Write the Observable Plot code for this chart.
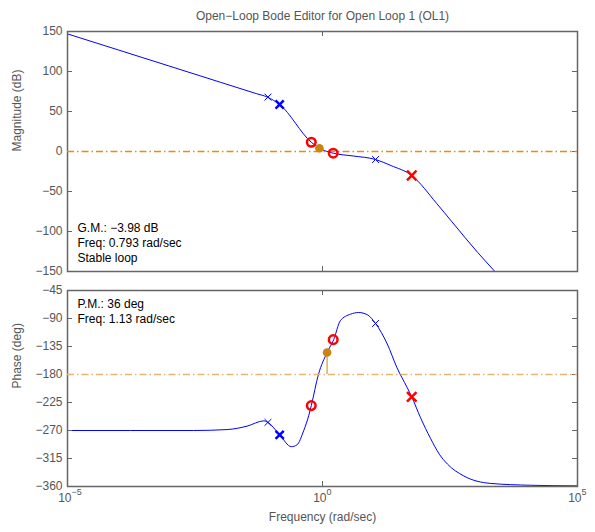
<!DOCTYPE html>
<html><head><meta charset="utf-8">
<script src="https://cdn.jsdelivr.net/npm/d3@7"></script>
<script src="https://cdn.jsdelivr.net/npm/@observablehq/plot@0.6"></script>
<style>body{margin:0;background:#fff} svg{display:block}</style>
</head><body><div id="chart"></div>
<script>
// ---- data (log10 of frequency in rad/sec) ----
const magLogFreq = [-5, -3, -2, -1.3, -1.08, -0.84, -0.22, -0.06, 0.21, 0.6, 1.04, 1.34, 1.75, 2.24, 2.54, 3.04, 3.38, 4.0];
const magDb      = [147, 106.7, 86.5, 72.4, 68, 58.7, 11.6, 4.1, -2.1, -5.6, -10, -17.5, -30, -65, -88, -126, -150, -196];

const phaseLogFreq = [-5, -2.53, -1.87, -1.48, -1.15, -1.07, -0.84, -0.61, -0.5, -0.37, -0.27, -0.22, -0.08, 0.09, 0.22, 0.35, 0.55, 0.71, 0.88, 1.04, 1.27, 1.46, 1.66, 1.75, 1.92, 2.12, 2.29, 2.45, 2.77, 3.29, 4.08, 5];
const phaseDeg     = [-270, -270, -268.5, -263, -254.5, -257, -277, -296, -293, -270.5, -246, -230, -180, -144.6, -124, -93.5, -83, -80.4, -84, -98, -131, -169, -201, -216, -249, -283, -308, -324, -343, -355, -358, -359];

const markerLogFreq = [-1.07, -0.84, -0.22, 0.21, 1.04, 1.75];
const markerKind    = ["pole", "poleBold", "zero", "zero", "pole", "poleRed"];
const markerMag     = [68, 58.7, 11.6, -2.1, -10, -30];
const markerPhase   = [-257, -277, -230, -124, -98, -216];

const gmLogFreq = -0.06, gmDb = 4.1;
const pmLogFreq = 0.09, pmDeg = -144.6;

const xTicks = [1e-5, 1, 1e5];
const xTickExp = ["\u22125", "0", "5"];
const magTicks = [150, 100, 50, 0, -50, -100, -150];
const phaseTicks = [-45, -90, -135, -180, -225, -270, -315, -360];

const title = "Open\u2212Loop Bode Editor for Open Loop 1 (OL1)";
const gmText = "G.M.: \u22123.98 dB\nFreq: 0.793 rad/sec\nStable loop";
const pmText = "P.M.: 36 deg\nFreq: 1.13 rad/sec";

// ---- tables ----
const magData = magLogFreq.map((lf, i) => ({f: 10 ** lf, v: magDb[i]}));
const phaseData = phaseLogFreq.map((lf, i) => ({f: 10 ** lf, v: phaseDeg[i]}));
const markers = markerLogFreq.map((lf, i) => ({f: 10 ** lf, kind: markerKind[i], mag: markerMag[i], phase: markerPhase[i]}));

const W = 595, ML = 67, MR = 18;
const innerW = W - ML - MR;
const font = "'Liberation Sans', Arial, Helvetica, sans-serif";
const frameColor = "#666";
const blue = "#0000ff";

function frameTicks(yTicks, innerH) {
  return [
    Plot.tickY(yTicks, {y: d => d, insetRight: innerW - 5, stroke: frameColor}),
    Plot.tickY(yTicks, {y: d => d, insetLeft: innerW - 5, stroke: frameColor}),
    Plot.tickX(xTicks, {x: d => d, insetBottom: innerH - 5, stroke: frameColor}),
    Plot.tickX(xTicks, {x: d => d, insetTop: innerH - 5, stroke: frameColor}),
    Plot.frame({stroke: frameColor, strokeWidth: 1.5})
  ];
}

function markerMarks(key) {
  return [
    Plot.dot(markers.filter(d => d.kind === "pole"), {x: "f", y: key, symbol: "times", r: 3.2, stroke: blue, strokeWidth: 1}),
    Plot.dot(markers.filter(d => d.kind === "poleBold"), {x: "f", y: key, symbol: "times", r: 3.8, stroke: blue, strokeWidth: 2.5}),
    Plot.dot(markers.filter(d => d.kind === "poleRed"), {x: "f", y: key, symbol: "times", r: 4.4, stroke: "#ff0000", strokeWidth: 2.5}),
    Plot.dot(markers.filter(d => d.kind === "zero"), {x: "f", y: key, r: 4.3, stroke: "#ff0000", strokeWidth: 2.5, fill: "none"})
  ];
}

const style = {fontFamily: font, fontSize: "12px", color: "#555", background: "white", overflow: "visible"};

const topH = 280;
const topPlot = Plot.plot({
  width: W, height: topH, marginLeft: ML, marginRight: MR, marginTop: 31, marginBottom: 9,
  style,
  x: {type: "log", domain: [1e-5, 1e5], axis: null},
  y: {domain: [-150, 150], axis: null},
  marks: [
    Plot.axisY(magTicks, {anchor: "left", tickSize: 0, tickPadding: 5, label: null, fontSize: 12}),
    Plot.line(magData, {x: "f", y: "v", stroke: blue, strokeWidth: 1, curve: "monotone-x", clip: true}),
    ...frameTicks(magTicks, topH - 31 - 9),
    Plot.ruleY([0], {stroke: "#f08c00", strokeOpacity: 1, strokeWidth: 1.3, strokeDasharray: "7,3,1.5,3"}),
    Plot.ruleX([10 ** gmLogFreq], {x: d => d, y1: 0, y2: gmDb, stroke: "#c98510", strokeWidth: 1.5}),
    Plot.dot([10 ** gmLogFreq], {x: d => d, y: gmDb, r: 4.3, fill: "#c98510"}),
    ...markerMarks("mag"),
    Plot.text([title], {frameAnchor: "top", dy: -20, fill: "#555", fontSize: 12}),
    Plot.text(["Magnitude (dB)"], {frameAnchor: "left", dx: -50, rotate: -90, fill: "#555", fontSize: 12}),
    Plot.text([gmText], {frameAnchor: "bottom-left", dx: 10, dy: -10, lineAnchor: "bottom", textAnchor: "start", lineHeight: 1.25, fill: "black", fontSize: 12})
  ]
});

const botH = 252;
const botPlot = Plot.plot({
  width: W, height: botH, marginLeft: ML, marginRight: MR, marginTop: 10, marginBottom: 46,
  style,
  x: {type: "log", domain: [1e-5, 1e5], axis: null},
  y: {domain: [-360, -45], axis: null},
  marks: [
    Plot.axisY(phaseTicks, {anchor: "left", tickSize: 0, tickPadding: 5, label: null, fontSize: 12}),
    Plot.line(phaseData, {x: "f", y: "v", stroke: blue, strokeWidth: 1, curve: "monotone-x", clip: true}),
    ...frameTicks(phaseTicks, botH - 10 - 46),
    Plot.ruleY([-180], {stroke: "#e2b66e", strokeWidth: 1.3, strokeDasharray: "7,3,1.5,3"}),
    Plot.ruleX([10 ** pmLogFreq], {x: d => d, y1: -180, y2: pmDeg, stroke: "#dcae5e", strokeWidth: 1.5}),
    Plot.dot([10 ** pmLogFreq], {x: d => d, y: pmDeg, r: 4.3, fill: "#c98510"}),
    ...markerMarks("phase"),
    Plot.text(xTicks, {x: d => d, frameAnchor: "bottom", dy: 15, text: () => "10", textAnchor: "end", dx: 4, fill: "#555", fontSize: 12}),
    Plot.text(xTicks, {x: d => d, frameAnchor: "bottom", dy: 8, text: d => xTickExp[xTicks.indexOf(d)], textAnchor: "start", dx: 4, fill: "#555", fontSize: 9}),
    Plot.text(["Frequency (rad/sec)"], {frameAnchor: "bottom", dy: 34, fill: "#555", fontSize: 12}),
    Plot.text(["Phase (deg)"], {frameAnchor: "left", dx: -50, rotate: -90, fill: "#555", fontSize: 12}),
    Plot.text([pmText], {frameAnchor: "top-left", dx: 10, dy: 7, lineAnchor: "top", textAnchor: "start", lineHeight: 1.25, fill: "black", fontSize: 12})
  ]
});

const chart = document.getElementById("chart");
chart.append(topPlot, botPlot);
</script>
</body></html>
